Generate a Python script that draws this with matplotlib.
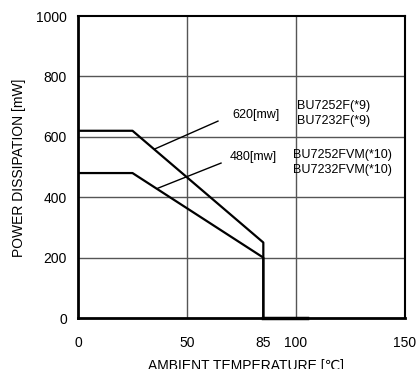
import matplotlib
matplotlib.use("Agg")
import matplotlib.pyplot as plt

plt.rcParams['font.family'] = ['Liberation Sans', 'DejaVu Sans']

# derating curves
temp_620 = [0, 25, 85, 85]
pd_620 = [620, 620, 250, 0]
temp_480 = [0, 25, 85, 85]
pd_480 = [480, 480, 200, 0]

x_ticks = [0, 50, 85, 100, 150]
y_ticks = [0, 200, 400, 600, 800, 1000]
x_grid = [50, 100]
y_grid = [200, 400, 600, 800]

fig = plt.figure(figsize=(4.18, 3.69), dpi=100)
ax = fig.add_axes([0.1866, 0.1382, 0.7824, 0.8184])

for x in x_grid:
    ax.axvline(x, color='#555555', lw=1.0, zorder=1)
for y in y_grid:
    ax.axhline(y, color='#555555', lw=1.0, zorder=1)

ax.plot(temp_620, pd_620, color='black', lw=1.6, zorder=3)
ax.plot(temp_480, pd_480, color='black', lw=1.6, zorder=3)
ax.plot([85, 105], [0, 0], color='black', lw=2.5, zorder=4, clip_on=False)

# leader lines + labels
ax.plot([35.3, 64.2], [560, 652], color='black', lw=1.0, zorder=3)
ax.plot([36.7, 65.6], [430, 513], color='black', lw=1.0, zorder=3)
ax.text(70.6, 672, "620[mw]", fontsize=9, va='center', ha='left')
ax.text(69.7, 533, "480[mw]", fontsize=9, va='center', ha='left')
ax.text(100.5, 702, "BU7252F(*9)", fontsize=9, va='center', ha='left')
ax.text(100.5, 652, "BU7232F(*9)", fontsize=9, va='center', ha='left')
ax.text(98.6, 540, "BU7252FVM(*10)", fontsize=9, va='center', ha='left')
ax.text(98.6, 490, "BU7232FVM(*10)", fontsize=9, va='center', ha='left')

ax.set_xlim(0, 150)
ax.set_ylim(0, 1000)
ax.set_xticks(x_ticks)
ax.set_yticks(y_ticks)
ax.tick_params(axis='both', length=0, labelsize=10)
ax.tick_params(axis='x', pad=13)
ax.tick_params(axis='y', pad=8)

ax.spines['left'].set_linewidth(2.0)
ax.spines['bottom'].set_linewidth(2.0)
ax.spines['top'].set_linewidth(1.5)
ax.spines['right'].set_linewidth(1.5)

fig.text(19 / 418, 1 - 168 / 369, "POWER DISSIPATION [mW]", rotation=90,
         fontsize=10, ha='center', va='center')
fig.text(246 / 418, 1 - 366 / 369, "AMBIENT TEMPERATURE [℃]",
         fontsize=10, ha='center', va='center')

fig.savefig("out.png", dpi=100)
